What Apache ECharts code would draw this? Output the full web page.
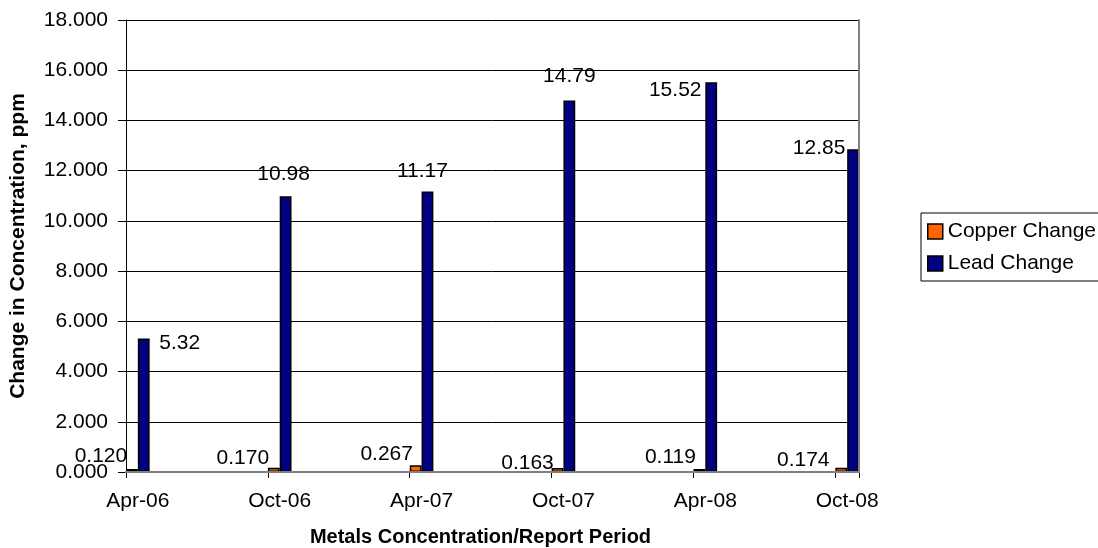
<!DOCTYPE html>
<html>
<head>
<meta charset="utf-8">
<script src="https://cdn.jsdelivr.net/npm/echarts@6/dist/echarts.min.js"></script>
<style>
  html, body { margin: 0; padding: 0; background: #fff; }
  #chart { width: 1098px; height: 548px; }
</style>
</head>
<body>
<div id="chart"></div>
<script>
// Report periods and the measured change in metal concentration (ppm)
const periods = ['Apr-06', 'Oct-06', 'Apr-07', 'Oct-07', 'Apr-08', 'Oct-08'];
const copperChange = [0.120, 0.170, 0.267, 0.163, 0.119, 0.174];
const leadChange = [5.32, 10.98, 11.17, 14.79, 15.52, 12.85];

// Value axis range
const yMin = 0;
const yMax = 18;
const yStep = 2;

// Where each value label sits, relative to the top-centre of its bar [dx, dy]
const copperLabelShift = [[-31, -13], [-31, -10], [-29, -11], [-30, -5], [-29, -12], [-38, -7]];
const leadLabelShift = [[36, 5], [-2, -22], [-5, -20], [0, -24], [-36, 8], [-34, -1]];

const FONT = '"Liberation Sans", Arial, sans-serif';
const LABEL_SIZE = 21;

// Monthly time line from the first to the last report period
const MONTHS = ['Jan', 'Feb', 'Mar', 'Apr', 'May', 'Jun', 'Jul', 'Aug', 'Sep', 'Oct', 'Nov', 'Dec'];
function parsePeriod(p) {
  const [m, y] = p.split('-');
  return (2000 + Number(y)) * 12 + MONTHS.indexOf(m);
}
function formatMonth(n) {
  const y = Math.floor(n / 12);
  return MONTHS[n % 12] + '-' + String(y % 100).padStart(2, '0');
}
const first = parsePeriod(periods[0]);
const last = parsePeriod(periods[periods.length - 1]);
const months = [];
for (let n = first; n <= last; n++) months.push(formatMonth(n));

function monthlySeries(values, shifts) {
  const out = months.map(() => '-');
  periods.forEach((p, i) => {
    const idx = months.indexOf(p);
    out[idx] = {
      value: values[i],
      label: { offset: [shifts[i][0], shifts[i][1] + LABEL_SIZE / 2] }
    };
  });
  return out;
}

const chart = echarts.init(document.getElementById('chart'), null, { renderer: 'canvas' });

const textBase = { color: '#000', fontFamily: FONT };

chart.setOption({
  animation: false,
  backgroundColor: '#fff',
  grid: { left: 126, top: 20, width: 733, height: 452, containLabel: false, outerBoundsMode: 'none' },
  legend: {
    orient: 'vertical',
    left: 921,
    top: 213,
    padding: [8, 6, 7, 6],
    itemWidth: 15,
    itemHeight: 15,
    itemGap: 11,
    borderColor: '#000',
    borderWidth: 1,
    icon: 'rect',
    itemStyle: { borderColor: '#000', borderWidth: 1.5 },
    textStyle: Object.assign({ fontSize: LABEL_SIZE, lineHeight: LABEL_SIZE, padding: [0, 0, 0, 0] }, textBase),
    data: ['Copper Change', 'Lead Change']
  },
  xAxis: [
    {
      type: 'category',
      data: months,
      boundaryGap: true,
      axisLine: { lineStyle: { color: '#000', width: 1 } },
      axisTick: { show: true, interval: 5, length: 6, alignWithLabel: false, lineStyle: { color: '#000' } },
      axisLabel: Object.assign({ interval: 5, margin: 19, fontSize: LABEL_SIZE, lineHeight: LABEL_SIZE }, textBase),
      splitLine: { show: false },
      name: 'Metals Concentration/Report Period',
      nameLocation: 'middle',
      nameGap: 55,
      nameTextStyle: Object.assign({ fontSize: 20, fontWeight: 'bold', padding: [0, 24, 0, 0] }, textBase)
    },
    {
      type: 'category',
      data: months,
      position: 'top',
      z: 5,
      axisLine: { lineStyle: { color: '#808080', width: 2 } },
      axisTick: { show: false },
      axisLabel: { show: false },
      splitLine: { show: false }
    }
  ],
  yAxis: [
    {
      type: 'value',
      min: yMin,
      max: yMax,
      interval: yStep,
      axisLine: { show: true, lineStyle: { color: '#000', width: 1 } },
      axisTick: { show: true, length: 8, lineStyle: { color: '#000' } },
      axisLabel: Object.assign({
        margin: 18,
        fontSize: LABEL_SIZE,
        formatter: v => v.toFixed(3)
      }, textBase),
      splitLine: { show: true, lineStyle: { color: '#000', width: 1 } },
      name: 'Change in Concentration, ppm',
      nameLocation: 'middle',
      nameRotate: 90,
      nameGap: 97,
      nameTextStyle: Object.assign({ fontSize: 21, fontWeight: 'bold' }, textBase)
    },
    {
      type: 'value',
      min: yMin,
      max: yMax,
      interval: yStep,
      position: 'right',
      z: 5,
      axisLine: { show: true, lineStyle: { color: '#808080', width: 2 } },
      axisTick: { show: false },
      axisLabel: { show: false },
      splitLine: { show: false }
    }
  ],
  series: [
    {
      name: 'Copper Change',
      type: 'bar',
      data: monthlySeries(copperChange, copperLabelShift),
      barGap: '0%',
      barCategoryGap: '0%',
      itemStyle: { color: '#FF6600', borderColor: '#000', borderWidth: 1.5 },
      label: Object.assign({
        show: true,
        position: 'top',
        distance: 0,
        fontSize: LABEL_SIZE,
        lineHeight: LABEL_SIZE,
        formatter: p => Number(p.value).toFixed(3)
      }, textBase)
    },
    {
      name: 'Lead Change',
      type: 'bar',
      data: monthlySeries(leadChange, leadLabelShift),
      itemStyle: { color: '#000080', borderColor: '#000', borderWidth: 1.5 },
      label: Object.assign({
        show: true,
        position: 'top',
        distance: 0,
        fontSize: LABEL_SIZE,
        lineHeight: LABEL_SIZE,
        formatter: p => Number(p.value).toFixed(2)
      }, textBase)
    }
  ]
});
</script>
</body>
</html>
